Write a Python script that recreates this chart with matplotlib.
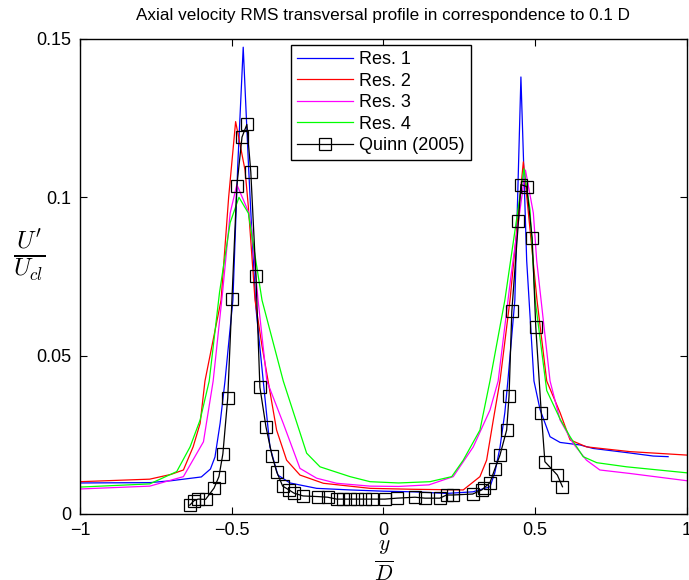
"""Axial velocity RMS transversal profile at 0.1 D: four resolutions vs Quinn (2005)."""

import matplotlib
matplotlib.use("Agg")
import matplotlib.pyplot as plt

matplotlib.rcParams["font.family"] = ["Liberation Sans", "DejaVu Sans"]
matplotlib.rcParams["mathtext.fontset"] = "cm"

# ── Data ─────────────────────────────────────────────────────────────────────
res1_x = [-1.0, -0.77, -0.70, -0.60, -0.57, -0.555, -0.538, -0.522, -0.496, -0.48,
          -0.462, -0.445, -0.434, -0.42, -0.396, -0.374, -0.348, -0.308, -0.22, -0.11,
          0.0, 0.10, 0.208, 0.295, 0.351, 0.367, 0.384, 0.400, 0.410, 0.433,
          0.453, 0.472, 0.496, 0.516, 0.549, 0.582, 0.648, 0.691, 0.801, 0.889, 0.938]
res1_y = [0.0098, 0.0099, 0.0105, 0.0117, 0.0142, 0.0180, 0.0287, 0.0420, 0.0675, 0.1100,
          0.1474, 0.1110, 0.0897, 0.0650, 0.0420, 0.0212, 0.0123, 0.0098, 0.0081, 0.0076,
          0.0072, 0.0070, 0.0065, 0.0070, 0.0086, 0.0130, 0.0210, 0.0320, 0.0420, 0.0675,
          0.1380, 0.0800, 0.0420, 0.0330, 0.0244, 0.0226, 0.0218, 0.0207, 0.0194, 0.0183, 0.0181]

res2_x = [-1.0, -0.77, -0.70, -0.659, -0.627, -0.604, -0.588, -0.535, -0.51, -0.487,
          -0.456, -0.445, -0.423, -0.40, -0.38, -0.352, -0.319, -0.275, -0.198, -0.044,
          0.10, 0.263, 0.318, 0.340, 0.362, 0.384, 0.417, 0.461, 0.506, 0.538,
          0.582, 0.615, 0.669, 0.812, 1.0]
res2_y = [0.0102, 0.0110, 0.0125, 0.0139, 0.0212, 0.0286, 0.0420, 0.0675, 0.1000, 0.1239,
          0.1086, 0.0970, 0.0675, 0.0530, 0.0420, 0.0265, 0.0170, 0.0123, 0.0097, 0.0081,
          0.0078, 0.0076, 0.0118, 0.0170, 0.0297, 0.0420, 0.0675, 0.1112, 0.0675, 0.0420,
          0.0320, 0.0234, 0.0212, 0.0197, 0.0186]

res3_x = [-1.0, -0.77, -0.659, -0.593, -0.561, -0.53, -0.505, -0.483, -0.465, -0.445,
          -0.434, -0.413, -0.384, -0.33, -0.275, -0.22, -0.154, -0.044, 0.05, 0.15,
          0.23, 0.296, 0.351, 0.378, 0.42, 0.468, 0.494, 0.505, 0.549, 0.582,
          0.625, 0.669, 0.713, 0.812, 1.0]
res3_y = [0.0079, 0.0088, 0.0118, 0.0228, 0.0420, 0.0700, 0.0950, 0.1040, 0.1000, 0.0955,
          0.0897, 0.0675, 0.0420, 0.0286, 0.0144, 0.0113, 0.0097, 0.0088, 0.0087, 0.0092,
          0.0118, 0.0212, 0.0328, 0.0420, 0.0750, 0.1086, 0.0950, 0.0800, 0.0420, 0.0297,
          0.0223, 0.0170, 0.0139, 0.0128, 0.0105]

res4_x = [-1.0, -0.77, -0.681, -0.637, -0.604, -0.574, -0.54, -0.505, -0.476, -0.445,
          -0.40, -0.33, -0.253, -0.209, -0.11, -0.044, 0.05, 0.153, 0.225, 0.263,
          0.318, 0.351, 0.40, 0.463, 0.483, 0.50, 0.538, 0.582, 0.615, 0.658,
          0.703, 0.801, 1.0]
res4_y = [0.0085, 0.0095, 0.0134, 0.0212, 0.0297, 0.0420, 0.0700, 0.0920, 0.1000, 0.0950,
          0.0675, 0.0420, 0.0192, 0.0149, 0.0118, 0.0102, 0.0098, 0.0102, 0.0118, 0.0170,
          0.0265, 0.0420, 0.0675, 0.1090, 0.0960, 0.0675, 0.0390, 0.0300, 0.0244, 0.0181,
          0.0162, 0.0149, 0.0130]

quinn_x = [-0.638, -0.624, -0.611, -0.586, -0.558,
           -0.542, -0.529, -0.513, -0.499, -0.483,
           -0.466, -0.450, -0.437, -0.420, -0.407,
           -0.387, -0.367, -0.352, -0.332, -0.311,
           -0.295, -0.265, -0.216, -0.184, -0.154,
           -0.133, -0.110, -0.088, -0.061, -0.037,
           0.005, 0.044, 0.104, 0.137, 0.186,
           0.208, 0.228, 0.294, 0.324, 0.331,
           0.351, 0.367, 0.384, 0.406, 0.414,
           0.423, 0.445, 0.453, 0.472, 0.490,
           0.502, 0.520, 0.532, 0.573, 0.590]
quinn_y = [0.0028, 0.0042, 0.0047, 0.0046, 0.0082,
           0.0118, 0.0190, 0.0366, 0.0680, 0.1036,
           0.1190, 0.1230, 0.1080, 0.0750, 0.0400,
           0.0275, 0.0184, 0.0134, 0.0088, 0.0076,
           0.0066, 0.0057, 0.0055, 0.0053, 0.0047,
           0.0047, 0.0047, 0.0047, 0.0047, 0.0047,
           0.0047, 0.0050, 0.0053, 0.0050, 0.0050,
           0.0060, 0.0060, 0.0063, 0.0076, 0.0082,
           0.0099, 0.0142, 0.0186, 0.0265, 0.0374,
           0.0640, 0.0926, 0.1040, 0.1034, 0.0872,
           0.0590, 0.0320, 0.0165, 0.0123, 0.0086]

labels = ["Res. 1", "Res. 2", "Res. 3", "Res. 4", "Quinn (2005)"]
xticks = [-1, -0.5, 0, 0.5, 1]
xticklabels = ["\u22121", "\u22120.5", "0", "0.5", "1"]
yticks = [0, 0.05, 0.1, 0.15]
yticklabels = ["0", "0.05", "0.1", "0.15"]

fig = plt.figure(figsize=(6.89, 5.8), dpi=100)
ax = fig.add_axes([0.116, 0.1138, 0.881, 0.819])

series = [(res1_x, res1_y, "#0000ff"), (res2_x, res2_y, "#ff0000"),
          (res3_x, res3_y, "#ff00ff"), (res4_x, res4_y, "#00ff00")]
for (xs, ys, c), lab in zip(series, labels):
    ax.plot(xs, ys, color=c, lw=0.9, label=lab)
ax.plot(quinn_x, quinn_y, color="black", lw=0.9, marker="s", ms=8,
        mfc="none", mec="black", mew=0.9, label=labels[4])

ax.set_xlim(-1, 1)
ax.set_ylim(0, 0.15)
ax.set_xticks(xticks)
ax.set_xticklabels(xticklabels)
ax.set_yticks(yticks)
ax.set_yticklabels(yticklabels)
ax.tick_params(direction="in", top=True, right=True, labelsize=13, length=5, pad=6)
for sp in ax.spines.values():
    sp.set_linewidth(1.0)

ax.set_title("Axial velocity RMS transversal profile in correspondence to 0.1 D",
             fontsize=12.3, pad=14)
ax.set_ylabel(r"$\frac{U^{\prime}}{U_{cl}}$", rotation=0, fontsize=25, va="center")
ax.yaxis.set_label_coords(-0.083, 0.545)
ax.set_xlabel(r"$\frac{y}{D}$", fontsize=22, va="center")
ax.xaxis.set_label_coords(0.5, -0.1)

leg = ax.legend(loc="upper left", bbox_to_anchor=(0.347, 0.988), fontsize=13,
                frameon=True, fancybox=False, framealpha=1, edgecolor="black",
                handlelength=3.1, handletextpad=0.35, labelspacing=0.25,
                borderpad=0.35, borderaxespad=0)
leg.get_frame().set_linewidth(1.0)

fig.savefig("out.png", dpi=100)
